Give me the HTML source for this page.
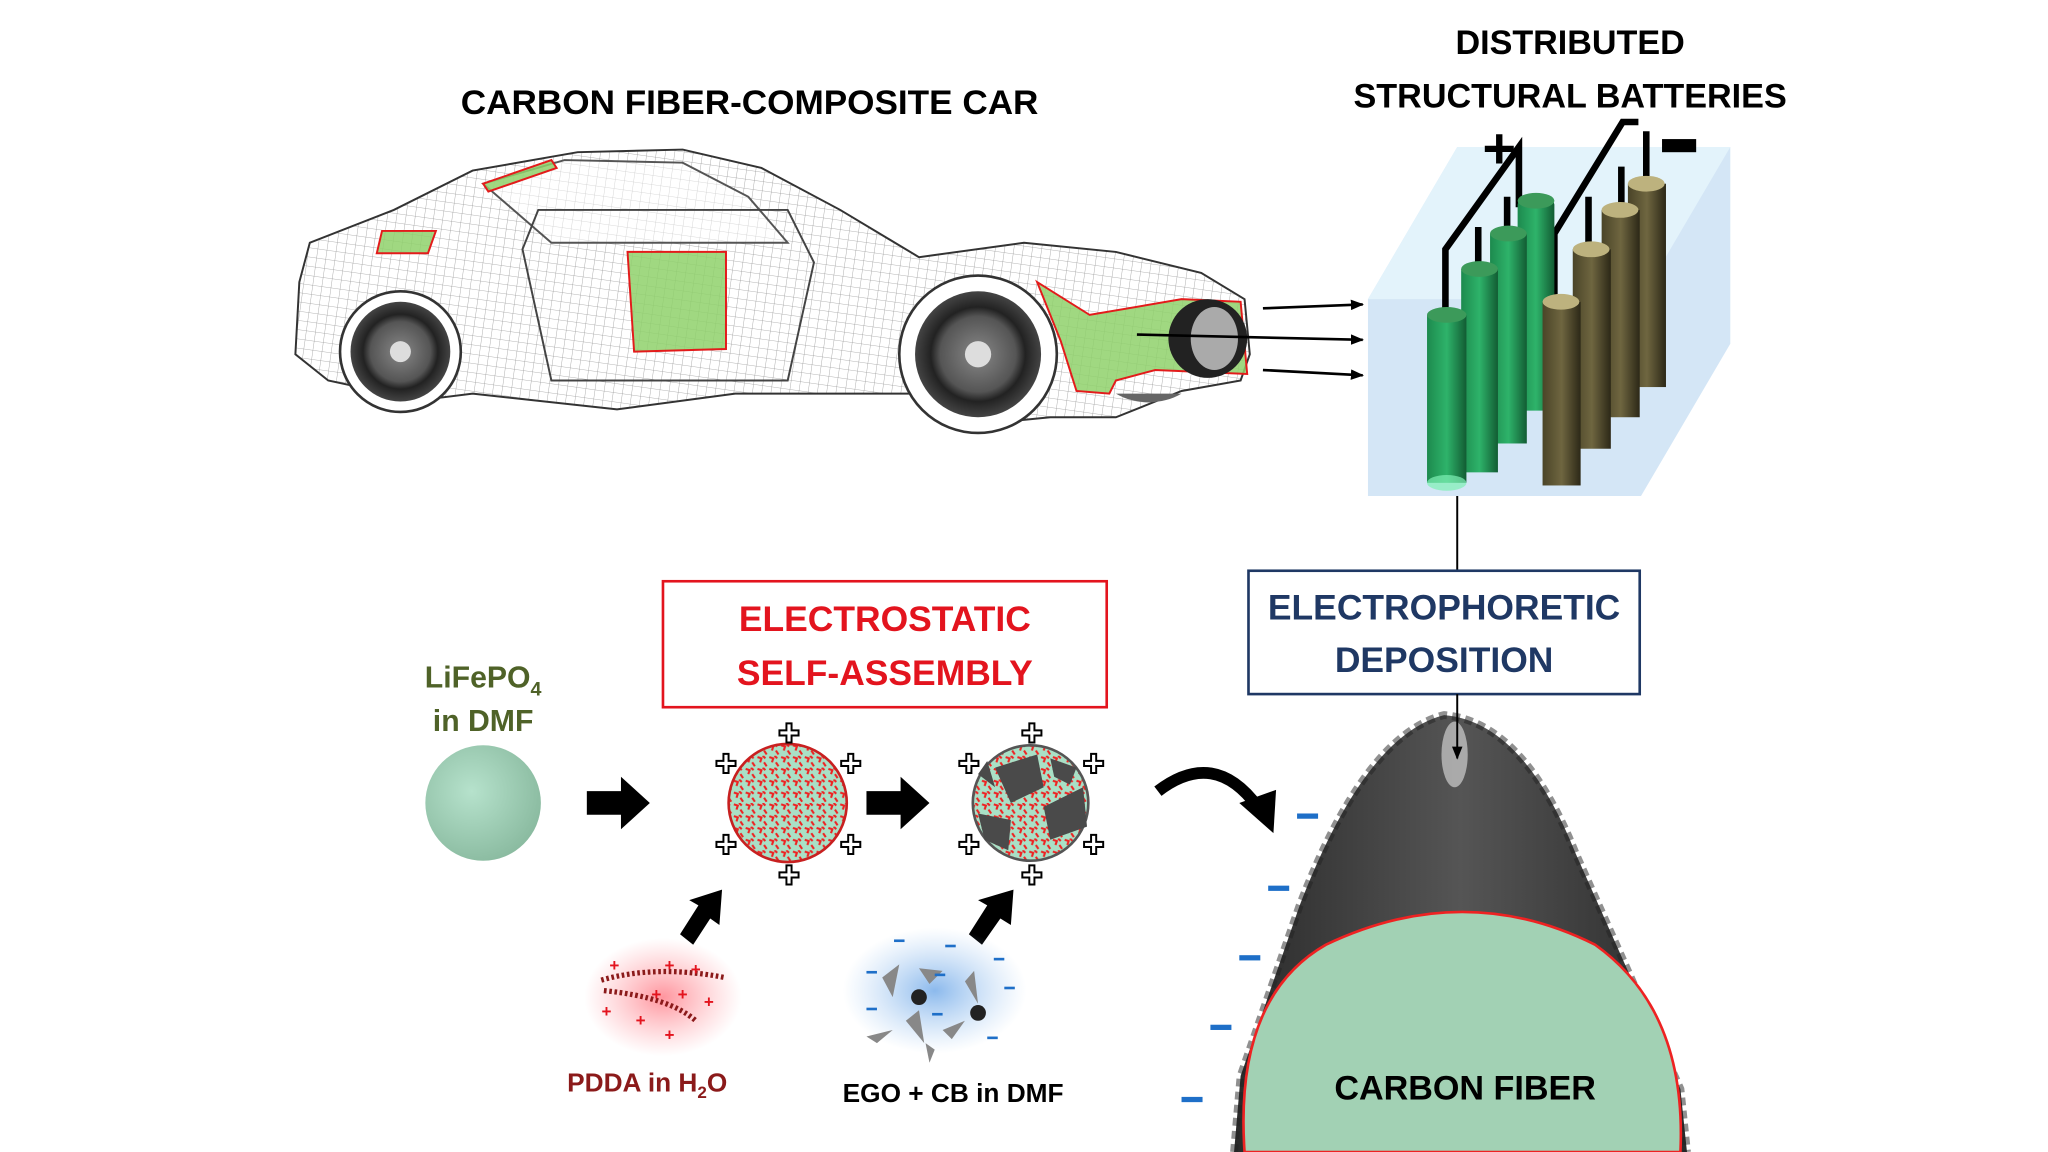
<!DOCTYPE html>
<html><head><meta charset="utf-8"><style>
html,body{margin:0;padding:0;background:#fff;}
svg{display:block;}
text{font-family:"Liberation Sans","DejaVu Sans",sans-serif;font-weight:bold;}
</style></head><body>
<svg width="2048" height="1152" viewBox="0 0 1560 878" preserveAspectRatio="none" xmlns="http://www.w3.org/2000/svg">
<defs>
<pattern id="grid" width="7" height="7" patternUnits="userSpaceOnUse" patternTransform="rotate(8)">
<path d="M0 0H7M0 0V7" stroke="#9a9a9a" stroke-width="0.6" fill="none"/>
</pattern>
<pattern id="speck" width="9" height="9" patternUnits="userSpaceOnUse">
<rect width="9" height="9" fill="#a9e0c6"/>
<path d="M1 1 L4 2 L3 5 M6 5 L8 8 M5 0 L7 2" stroke="#e22" stroke-width="1.6" fill="none"/>
</pattern>
<radialGradient id="sph" cx="0.4" cy="0.4" r="0.7"><stop offset="0" stop-color="#b6e2cc"/><stop offset="1" stop-color="#86b79c"/></radialGradient>
<radialGradient id="redglow"><stop offset="0" stop-color="#ff7b86" stop-opacity="0.8"/><stop offset="1" stop-color="#ff9aa2" stop-opacity="0"/></radialGradient>
<radialGradient id="blueglow"><stop offset="0" stop-color="#6fa8e8" stop-opacity="0.8"/><stop offset="1" stop-color="#9cc5f0" stop-opacity="0"/></radialGradient>
<linearGradient id="grn" x1="0" x2="1"><stop offset="0" stop-color="#1d8a4e"/><stop offset="0.5" stop-color="#2eb36a"/><stop offset="1" stop-color="#125c33"/></linearGradient>
<linearGradient id="brn" x1="0" x2="1"><stop offset="0" stop-color="#4a4428"/><stop offset="0.5" stop-color="#6f6640"/><stop offset="1" stop-color="#2c2817"/></linearGradient>
<linearGradient id="fib" x1="0" x2="1"><stop offset="0" stop-color="#2a2a2a"/><stop offset="0.5" stop-color="#555"/><stop offset="1" stop-color="#2a2a2a"/></linearGradient>
<radialGradient id="wheel"><stop offset="0" stop-color="#888"/><stop offset="0.6" stop-color="#555"/><stop offset="0.75" stop-color="#222"/><stop offset="1" stop-color="#444"/></radialGradient>
<marker id="ah" markerWidth="10" markerHeight="8" refX="9" refY="4" orient="auto" markerUnits="userSpaceOnUse"><path d="M0 0L10 4L0 8Z" fill="#000"/></marker>
</defs>

<!-- titles -->
<text x="571" y="87" font-size="26" text-anchor="middle" fill="#000" textLength="440" lengthAdjust="spacingAndGlyphs">CARBON FIBER-COMPOSITE CAR</text>
<text x="1196" y="41" font-size="26" text-anchor="middle">DISTRIBUTED</text>
<text x="1196" y="82" font-size="26" text-anchor="middle" textLength="330" lengthAdjust="spacingAndGlyphs">STRUCTURAL BATTERIES</text>

<!-- car -->
<g stroke="#333" stroke-width="1.5">
<path d="M228 215 L236 185 L300 160 L360 130 L440 116 L520 114 L580 128 L640 160 L700 196 L780 185 L850 192 L915 208 L948 228 L952 270 L945 290 L900 298 L850 318 L800 318 L760 322 L700 300 L560 300 L470 312 L360 300 L320 305 L250 290 L225 270 Z" fill="url(#grid)"/>
<path d="M368 140 L430 122 L520 124 L570 150 L600 185 L420 185 Z" fill="#fff" fill-opacity="0.5" stroke="#555"/>
<path d="M398 190 L410 160 L600 160 L620 200 L600 290 L420 290 Z" fill="none" stroke="#444"/>
</g>
<circle cx="305" cy="268" r="46" fill="#fff" stroke="#333" stroke-width="2"/>
<circle cx="305" cy="268" r="38" fill="url(#wheel)"/>
<circle cx="305" cy="268" r="8" fill="#ddd"/>
<circle cx="745" cy="270" r="60" fill="#fff" stroke="#333" stroke-width="2"/>
<circle cx="745" cy="270" r="48" fill="url(#wheel)"/>
<circle cx="745" cy="270" r="10" fill="#ddd"/>
<path d="M850 300 A40 30 0 0 0 900 300" fill="#666"/>
<g fill="#8fd16b" fill-opacity="0.85" stroke="#e31b1b" stroke-width="1.5">
<path d="M291 176 L332 176 L326 193 L287 193 Z"/>
<path d="M368 140 L420 122 L424 128 L372 146 Z"/>
<path d="M478 192 L553 192 L553 266 L483 268 Z"/>
<path d="M790 215 L830 240 L900 228 L945 230 L950 285 L880 282 L850 290 L845 300 L820 298 L808 260 Z"/>
</g>
<ellipse cx="920" cy="258" rx="30" ry="30" fill="#222"/>
<ellipse cx="925" cy="258" rx="18" ry="24" fill="#aaa"/>
<g stroke="#000" stroke-width="2" marker-end="url(#ah)">
<line x1="962" y1="235" x2="1038" y2="232"/>
<line x1="866" y1="255" x2="1038" y2="259"/>
<line x1="962" y1="282" x2="1038" y2="286"/>
</g>

<!-- battery box -->
<polygon points="1042,228 1110,112 1318,112 1318,262 1250,378 1042,378" fill="#d4e6f6"/>
<polygon points="1042,228 1110,112 1318,112 1250,228" fill="#e3f3fb"/>
<g stroke="#000" stroke-width="5" fill="none" stroke-linejoin="miter">
<path d="M1101 250 L1101 190 L1157 112 L1157 158"/>
<path d="M1126 210 L1126 173"/><path d="M1148 180 L1148 150"/>
<path d="M1184 235 L1184 178 L1236 93 L1248 93"/>
<path d="M1210 195 L1210 150"/><path d="M1235 165 L1235 127"/><path d="M1254 140 L1254 100"/>
</g>
<g>
<rect x="1156" y="153" width="28" height="160" fill="url(#grn)" rx="3"/><ellipse cx="1170" cy="153" rx="14" ry="6" fill="#3c9a5a"/>
<rect x="1135" y="178" width="28" height="160" fill="url(#grn)"/><ellipse cx="1149" cy="178" rx="14" ry="6" fill="#3c9a5a"/>
<rect x="1113" y="205" width="28" height="155" fill="url(#grn)"/><ellipse cx="1127" cy="205" rx="14" ry="6" fill="#3c9a5a"/>
<rect x="1087" y="240" width="30" height="128" fill="url(#grn)"/><ellipse cx="1102" cy="240" rx="15" ry="6" fill="#3c9a5a"/>
<ellipse cx="1102" cy="368" rx="15" ry="6" fill="#7ff0b5" opacity="0.7"/>
<rect x="1240" y="140" width="29" height="155" fill="url(#brn)"/><ellipse cx="1254" cy="140" rx="14" ry="6" fill="#bdb27e"/>
<rect x="1220" y="160" width="29" height="158" fill="url(#brn)"/><ellipse cx="1234" cy="160" rx="14" ry="6" fill="#bdb27e"/>
<rect x="1198" y="190" width="29" height="152" fill="url(#brn)"/><ellipse cx="1212" cy="190" rx="14" ry="6" fill="#bdb27e"/>
<rect x="1175" y="230" width="29" height="140" fill="url(#brn)"/><ellipse cx="1189" cy="230" rx="14" ry="6" fill="#bdb27e"/>
</g>
<text x="1142" y="128" font-size="44" text-anchor="middle">+</text>
<rect x="1266" y="106" width="26" height="10" fill="#000"/>
<line x1="1110" y1="378" x2="1110" y2="435" stroke="#000" stroke-width="1.5"/>

<!-- EPD box -->
<rect x="951" y="435" width="298" height="94" fill="#fff" stroke="#1f3864" stroke-width="2"/>
<text x="1100" y="472" font-size="27" text-anchor="middle" fill="#1f3864">ELECTROPHORETIC</text>
<text x="1100" y="512" font-size="27" text-anchor="middle" fill="#1f3864">DEPOSITION</text>

<!-- ESA box -->
<rect x="505" y="443" width="338" height="96" fill="#fff" stroke="#e3141e" stroke-width="2"/>
<text x="674" y="481" font-size="27" text-anchor="middle" fill="#e3141e">ELECTROSTATIC</text>
<text x="674" y="522" font-size="27" text-anchor="middle" fill="#e3141e">SELF-ASSEMBLY</text>

<!-- LiFePO4 -->
<text x="368" y="524" font-size="23" text-anchor="middle" fill="#4f6228">LiFePO<tspan font-size="15" dy="6">4</tspan></text>
<text x="368" y="557" font-size="23" text-anchor="middle" fill="#4f6228">in DMF</text>
<circle cx="368" cy="612" r="44" fill="url(#sph)"/>

<path d="M447 603 H473 V592 L495 612 L473 632 V621 H447 Z" fill="#000"/>
<path d="M660 603 H686 V592 L708 612 L686 632 V621 H660 Z" fill="#000"/>

<!-- sphere 2 -->
<circle cx="600" cy="612" r="45" fill="url(#speck)" stroke="#c82020" stroke-width="2"/>
<!-- sphere 3 -->
<circle cx="785" cy="612" r="44" fill="url(#speck)" stroke="#555" stroke-width="2"/>
<g fill="#4a4a4a">
<path d="M758 585 L790 575 L795 600 L770 612 Z"/><path d="M795 615 L825 600 L828 630 L800 640 Z"/><path d="M745 620 L770 625 L768 648 L750 640 Z"/><path d="M800 578 L820 585 L815 598 L803 592 Z"/><path d="M745 590 L752 580 L758 600 Z"/>
</g>
<g fill="#fff" stroke="#000" stroke-width="1.5" font-size="20" text-anchor="middle" font-weight="bold">
<text x="601" y="566">✚</text><text x="553" y="589">✚</text><text x="648" y="589">✚</text><text x="553" y="651">✚</text><text x="648" y="651">✚</text><text x="601" y="674">✚</text>
<text x="786" y="566">✚</text><text x="738" y="589">✚</text><text x="833" y="589">✚</text><text x="738" y="651">✚</text><text x="833" y="651">✚</text><text x="786" y="674">✚</text>
</g>

<path d="M518 712 L532 690 L525 686 L550 678 L548 705 L541 700 L528 720 Z" fill="#000"/>
<path d="M738 712 L752 690 L745 686 L772 678 L770 705 L762 700 L748 720 Z" fill="#000"/>

<!-- PDDA -->
<ellipse cx="505" cy="760" rx="60" ry="45" fill="url(#redglow)"/>
<path d="M458 747 Q500 735 552 745" stroke="#8b1a1a" stroke-width="4" fill="none" stroke-dasharray="2 2"/>
<path d="M460 755 Q510 760 530 778" stroke="#8b1a1a" stroke-width="4" fill="none" stroke-dasharray="2 2"/>
<g fill="#e3141e" font-size="13" text-anchor="middle"><text x="468" y="740">+</text><text x="510" y="740">+</text><text x="530" y="743">+</text><text x="500" y="762">+</text><text x="520" y="762">+</text><text x="540" y="768">+</text><text x="462" y="775">+</text><text x="488" y="782">+</text><text x="510" y="793">+</text></g>
<text x="493" y="832" font-size="20" text-anchor="middle" fill="#8b1a1a">PDDA in H<tspan font-size="13" dy="5">2</tspan><tspan dy="-5">O</tspan></text>

<!-- EGO -->
<ellipse cx="712" cy="755" rx="70" ry="48" fill="url(#blueglow)"/>
<g fill="#888"><path d="M672 745 L685 735 L680 760 Z"/><path d="M700 738 L718 740 L708 750 Z"/><path d="M735 748 L742 740 L745 765 Z"/><path d="M690 778 L700 770 L704 795 Z"/><path d="M660 790 L680 785 L668 795 Z"/><path d="M718 785 L735 778 L725 792 Z"/><path d="M705 795 L712 800 L708 810 Z"/></g>
<circle cx="700" cy="760" r="6" fill="#222"/><circle cx="745" cy="772" r="6" fill="#222"/>
<g fill="#1e6fc8"><rect x="681" y="716" width="8" height="2"/><rect x="720" y="720" width="8" height="2"/><rect x="757" y="730" width="8" height="2"/><rect x="660" y="740" width="8" height="2"/><rect x="712" y="742" width="8" height="2"/><rect x="765" y="752" width="8" height="2"/><rect x="660" y="768" width="8" height="2"/><rect x="710" y="772" width="8" height="2"/><rect x="752" y="790" width="8" height="2"/></g>
<text x="726" y="840" font-size="20" text-anchor="middle" fill="#000">EGO + CB in DMF</text>

<!-- curved arrow -->
<path d="M882 603 Q925 570 958 615" stroke="#000" stroke-width="9" fill="none"/>
<path d="M944 612 L970 635 L972 602 Z" fill="#000"/>

<!-- carbon fiber -->
<path d="M940 878 L945 820 L990 690 Q1040 560 1100 545 Q1160 550 1200 650 L1280 830 L1285 878 Z" fill="url(#fib)"/>
<path d="M940 878 L945 820 L990 690 Q1040 560 1100 545 Q1160 550 1200 650 L1280 830 L1285 878" fill="none" stroke="#222" stroke-width="6" stroke-dasharray="6 4" opacity="0.5"/>
<ellipse cx="1108" cy="575" rx="10" ry="25" fill="#fff" opacity="0.5"/>
<path d="M948 878 Q940 760 1010 720 Q1115 670 1215 720 Q1285 770 1280 878 Z" fill="#a2d1b4" stroke="#e22" stroke-width="2"/>
<line x1="1110" y1="529" x2="1110" y2="578" stroke="#000" stroke-width="1.5" marker-end="url(#ah)"/>
<text x="1116" y="838" font-size="26" text-anchor="middle" fill="#000">CARBON FIBER</text>
<g fill="#1e6fc8"><rect x="988" y="620" width="16" height="4"/><rect x="966" y="675" width="16" height="4"/><rect x="944" y="728" width="16" height="4"/><rect x="922" y="781" width="16" height="4"/><rect x="900" y="836" width="16" height="4"/></g>
</svg>
</body></html>
